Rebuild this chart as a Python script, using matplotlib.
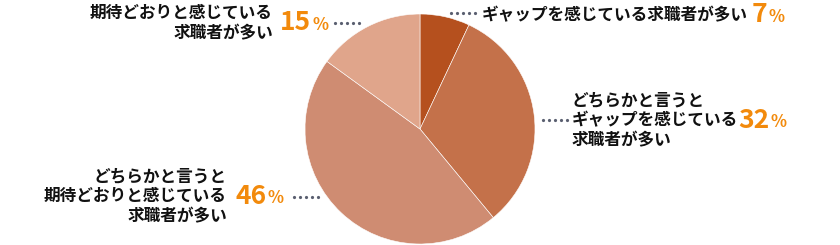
import matplotlib
matplotlib.use('Agg')
from matplotlib import pyplot as plt

plt.rcParams['font.family'] = ['Noto Sans CJK JP', 'DejaVu Sans']

# データ
labels = [
    'ギャップを感じている求職者が多い',
    'どちらかと言うと\nギャップを感じている\n求職者が多い',
    'どちらかと言うと\n期待どおりと感じている\n求職者が多い',
    '期待どおりと感じている\n求職者が多い',
]
values = [7, 32, 46, 15]
colors = ['#b5501e', '#c4714a', '#cf8c72', '#e0a58b']

W, H = 840, 245
fig = plt.figure(figsize=(W / 100, H / 100), dpi=100)
ax = fig.add_axes([0, 0, 1, 1])

ax.pie(values, colors=colors, startangle=90, counterclock=False,
       center=(420, H - 129), radius=115,
       wedgeprops=dict(edgecolor='white', linewidth=0.4))
ax.set_xlim(0, W)
ax.set_ylim(0, H)
ax.set_aspect('equal')
ax.axis('off')

# ラベルの配置 (テキスト位置, 数字の位置, 点線)
layout = [
    dict(tx=482, ty=15, ha='left', px=752, py=15, dots=(451, 475, 13)),
    dict(tx=572, ty=120, ha='left', px=738, py=120, dots=(543, 567, 120)),
    dict(tx=227, ty=196, ha='right', px=235, py=196, dots=(294, 318, 197)),
    dict(tx=273, ty=23, ha='right', px=280, py=23, dots=(335, 359, 23)),
]

orange = '#f28a0c'
dot_col = '#5a5f70'

for lab, v, lo in zip(labels, values, layout):
    ax.text(lo['tx'], H - lo['ty'], lab, ha=lo['ha'], va='center',
            fontsize=12, fontweight='bold', color='#111111',
            linespacing=1.15, multialignment=lo['ha'])
    t = ax.text(lo['px'], H - lo['py'], str(v), ha='left', va='center',
                fontsize=19, fontweight='bold', color=orange)
    fig.canvas.draw()
    bb = t.get_window_extent().transformed(ax.transData.inverted())
    ax.text(bb.x1 + 1, H - lo['py'] - 2, '%', ha='left', va='center',
            fontsize=12, fontweight='bold', color=orange)
    x0, x1, y = lo['dots']
    n = 5
    xs = [x0 + (x1 - x0) * i / (n - 1) for i in range(n)]
    ax.plot(xs, [H - y] * n, 'o', color=dot_col, markersize=2.3,
            markeredgewidth=0)

fig.savefig('out.png', dpi=100)
